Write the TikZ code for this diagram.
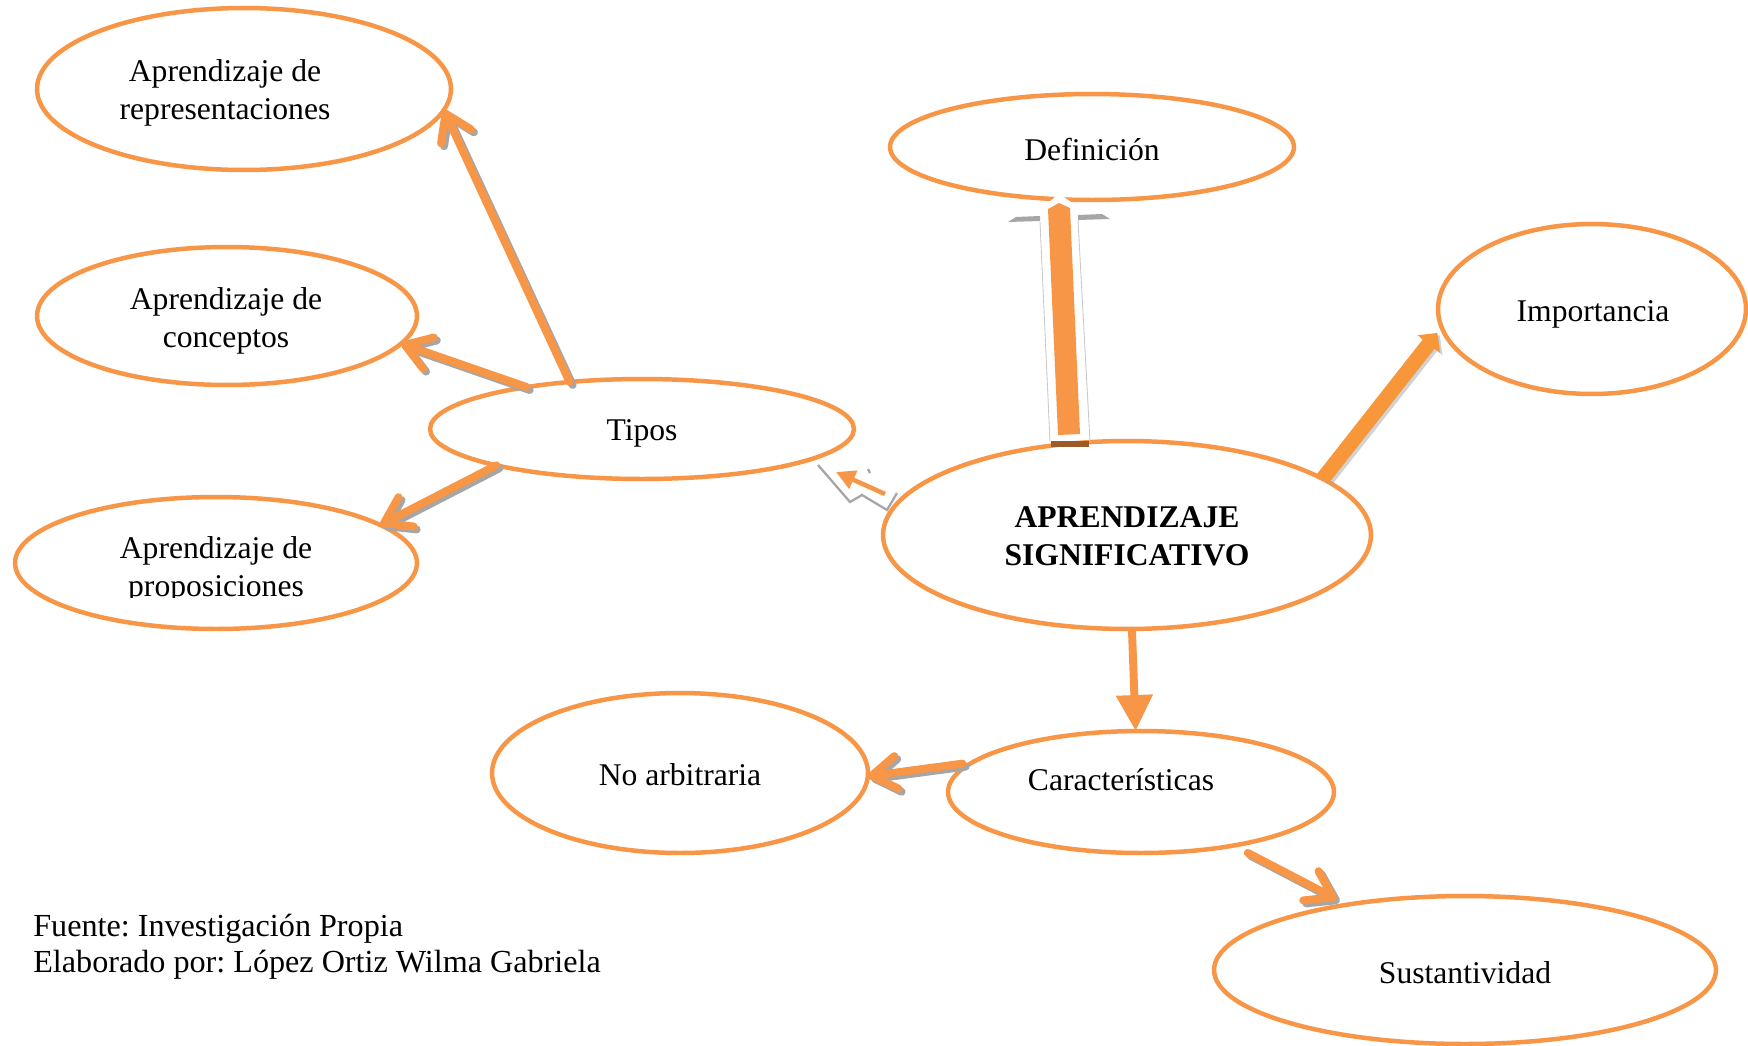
\documentclass[tikz,border=0pt]{standalone}
\usepackage{fontspec}
\setmainfont{Liberation Serif}
\usetikzlibrary{arrows.meta,shapes.geometric}
\definecolor{org}{HTML}{F79646}
\definecolor{impc}{HTML}{F8963A}
\definecolor{shd}{HTML}{A6A6A6}
\definecolor{brn}{HTML}{9B5A2A}
\frenchspacing
\begin{document}
\begin{tikzpicture}[x=0.02cm,y=-0.02cm,
  bub/.style={ellipse, draw=org, line width=2.55pt, inner sep=0pt, outer sep=0pt},
  txt/.style={font=\fontsize{18}{21.6}\selectfont, align=center, inner sep=0pt},
  barb/.style={draw=org, line width=4.5pt, line cap=round, -{Straight Barb[length=0.5cm,width=0.66cm,round]}},
  sh/.style={draw=shd, transform canvas={xshift=0.06cm,yshift=-0.06cm}}
]
\useasboundingbox (0,0) rectangle (1748,1045);
\fill[white] (0,0) rectangle (1748,1045);

% ellipses
\node[bub, minimum width=8.28cm, minimum height=3.24cm] (rep) at (244,89) {};
\node[bub, minimum width=7.6cm, minimum height=2.76cm] (conc) at (227,316) {};
\node[bub, minimum width=8.48cm, minimum height=2.0cm] (tipos) at (642,429) {};
\node[bub, minimum width=8.04cm, minimum height=2.64cm] (prop) at (216,563) {};
\node[bub, minimum width=8.08cm, minimum height=2.12cm] (def) at (1092,147) {};
\node[bub, minimum width=6.16cm, minimum height=3.4cm] (imp) at (1592,309) {};
\node[bub, minimum width=9.76cm, minimum height=3.76cm] (apr) at (1127,535) {};
\node[bub, minimum width=7.52cm, minimum height=3.2cm] (noarb) at (680,773) {};
\node[bub, minimum width=7.72cm, minimum height=2.44cm] (car) at (1141,792) {};
\node[bub, minimum width=10.04cm, minimum height=2.96cm] (sust) at (1465,970) {};

% texts
\node[txt] (trep) at (225,93) {Aprendizaje de\\representaciones};
\node[txt] (tconc) at (226,321) {Aprendizaje de\\conceptos};
\node[txt] (ttipos) at (642,433) {Tipos};
\begin{scope}
\clip (0,450) rectangle (420,597);
\node[txt] (tprop) at (216,570) {Aprendizaje de\\proposiciones};
\end{scope}
\node[txt] (tdef) at (1092,150) {Definición};
\node[txt] (timp) at (1593,314) {Importancia};
\node[txt, font=\fontsize{18}{21.6}\selectfont\bfseries] (tapr) at (1127,536) {APRENDIZAJE\\SIGNIFICATIVO};
\node[txt] (tnoarb) at (680,775) {No arbitraria};
\node[txt] (tcar) at (1121,780) {Características};
\node[txt] (tsust) at (1465,973) {Sustantividad};
\node[font=\fontsize{18.3}{20.5}\selectfont, align=left, anchor=west, inner sep=0pt] (fuente) at (33,947)
  {Fuente: Investigación Propia\\Elaborado por: López Ortiz Wilma Gabriela};

% Tipos arrows (with shadows)
\draw[barb, sh] (tipos.147) -- (rep.-6);
\draw[barb] (tipos.147) -- (rep.-6);
\draw[barb, sh] (tipos.160) -- (conc.-9);
\draw[barb] (tipos.160) -- (conc.-9);
\draw[barb, sh] (tipos.194) -- (prop.13);
\draw[barb] (tipos.194) -- (prop.13);

% Caracteristicas arrows
\draw[barb, sh, shorten <=0.2cm] (car.170) -- (noarb.-1);
\draw[barb, shorten <=0.2cm] (car.170) -- (noarb.-1);
\draw[barb, sh, shorten <=0.32cm, shorten >=0.24cm] (car.-30) -- (sust.151);
\draw[barb, shorten <=0.32cm, shorten >=0.24cm] (car.-30) -- (sust.151);

% Aprendizaje -> Caracteristicas
\draw[org, line width=4.5pt, -{Triangle[length=0.72cm,width=0.7cm]}] (apr.-87) -- (car.95);

% Aprendizaje -> Importancia
\draw[shd, opacity=0.5, line width=8.5pt, transform canvas={xshift=0.05cm,yshift=-0.05cm}, shorten >=0.14cm,
  -{Triangle[length=0.28cm,width=0.55cm]}] (apr.16) -- (imp.187);
\draw[impc, line width=8.5pt, shorten >=0.14cm, -{Triangle[length=0.28cm,width=0.55cm]}] (apr.16) -- (imp.187);

% Aprendizaje -> Tipos (small)
\coordinate (dA) at (885,494);
\coordinate (dB) at (836,472);
\draw[shd, line width=1.3pt] (818,465) -- (850,502) -- (862,495) -- (887,510) -- (897,493);
\draw[shd, line width=1.3pt] (868,469) -- (870,473);
\draw[org, line width=2.6pt, -{Triangle[length=0.38cm,width=0.38cm]}] (dA) -- (dB);

% Aprendizaje -> Definicion (block arrow)
\fill[shd] (1008,222) -- (1016,217) -- (1040,216) -- (1040,221) -- cycle;
\fill[shd] (1078,215) -- (1102,214) -- (1110,219) -- (1078,220) -- cycle;
\fill[white] (1044,214) -- (1044,206) -- (1059,194) -- (1077,206) -- (1077,214) -- cycle;
\draw[shd!60, line width=0.5pt] (1040,222) -- (1050,442);
\draw[shd!60, line width=0.5pt] (1078,220) -- (1090,442);
\fill[org] (1048,209) -- (1059,203) -- (1070,208) -- (1080,434) -- (1058,435) -- cycle;
\fill[brn] (1051,441) -- (1089,441) -- (1089,447) -- (1051,447) -- cycle;
\end{tikzpicture}
\end{document}
